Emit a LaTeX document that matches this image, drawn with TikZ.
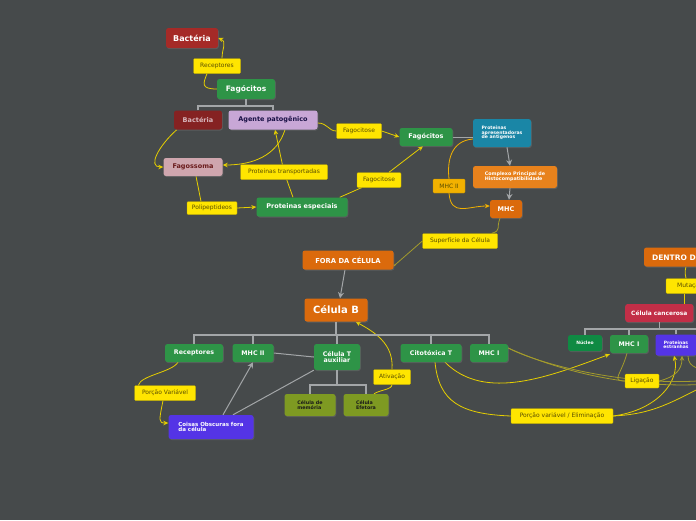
\documentclass[tikz,border=0pt]{standalone}
\usepackage{fontspec}
\setmainfont{DejaVu Sans}
\usetikzlibrary{arrows.meta,shadows}
\definecolor{bg}{HTML}{464A4B}
\definecolor{tagfill}{HTML}{FFE500}
\definecolor{tagtext}{HTML}{5A4E00}
\definecolor{linky}{HTML}{E6CF00}
\definecolor{linko}{HTML}{A39B2C}
\definecolor{linka}{HTML}{F2B100}
\definecolor{treegray}{HTML}{A3A6A8}
\definecolor{mmgreen}{HTML}{2E9447}
\definecolor{mmdkgreen}{HTML}{0F8A43}
\definecolor{mmorange}{HTML}{DB6A0C}
\definecolor{mmorange2}{HTML}{E8821C}
\definecolor{mmred}{HTML}{A52A27}
\definecolor{mmdkred}{HTML}{852222}
\definecolor{mmlav}{HTML}{C8A7D6}
\definecolor{mmpink}{HTML}{CFA6AE}
\definecolor{mmteal}{HTML}{1A86A6}
\definecolor{mmpurple}{HTML}{5434E6}
\definecolor{mmolive}{HTML}{7E9A22}
\definecolor{mmcrimson}{HTML}{C22E47}
\pgfdeclarelayer{back}
\pgfdeclarelayer{links}
\pgfsetlayers{back,links,main}
\newcommand{\fsz}[1]{\fontsize{#1}{#1}\selectfont}
\newcommand{\treebar}[3]{
	\draw[treeline] (#1.south) -- (#1.south |- 0,#2);
	\foreach \c in {#3} {
		\draw[treeline] (\c.north) |- (#1.south |- 0,#2);
	}
}

\begin{document}
\begin{tikzpicture}[x=1pt,y=-1pt,
	topic/.style={rounded corners=2.5pt,text=white,inner sep=1pt,align=center,
		drop shadow={opacity=0.35,shadow xshift=0.8pt,shadow yshift=-1pt}},
	tag/.style={fill=tagfill,draw=linky!80!black,line width=0.3pt,rounded corners=1pt,
		text=tagtext,font=\fsz{6},inner sep=1pt,minimum height=15},
	link/.style={draw=linky,line width=0.8pt},
	olink/.style={draw=linko,line width=0.8pt},
	tip/.style={-{Stealth[length=5pt,width=4.5pt]}},
	treeline/.style={draw=treegray,line width=1.6pt},
	grayline/.style={draw=treegray,line width=1pt},
	grayarrow/.style={grayline,-{Stealth[length=6pt,width=6pt]}}]
	\useasboundingbox (0,0) rectangle (696,520);
	\begin{pgfonlayer}{back}
		\fill[bg] (0,0) rectangle (696,520);
	\end{pgfonlayer}
	\clip (0,0) rectangle (696,520);

	% fora da celula
	\node[topic,fill=mmred,minimum width=52,minimum height=20,font=\bfseries\fsz{8}] (bac1) at (192,38) {Bactéria};
	\node[topic,fill=mmgreen,minimum width=58,minimum height=20,font=\bfseries\fsz{7.5}] (fag1) at (246,89) {Fagócitos};
	\node[topic,fill=mmdkred,text=mmpink!80!white,minimum width=48,minimum height=19,font=\bfseries\fsz{6.5}] (bac2) at (198,120) {Bactéria};
	\node[topic,fill=mmlav,text=black!50!mmpurple!60!black,minimum width=89,minimum height=19,font=\bfseries\fsz{6.5}] (agente) at (273,120) {Agente patogênico};
	\node[topic,fill=mmgreen,minimum width=53,minimum height=18,font=\bfseries\fsz{6.5}] (fag2) at (426,137) {Fagócitos};
	\node[topic,fill=mmteal,minimum width=58,minimum height=28,align=left,font=\bfseries\fsz{4.6}] (apres) at (502,133) {Proteinas\\apresentadoras\\de antigenos};
	\node[topic,fill=mmorange2,minimum width=84,minimum height=22,align=left,font=\bfseries\fsz{4.8}] (compl) at (515,177) {Complexo Principal de\\Histocompatibilidade};
	\node[topic,fill=mmorange,minimum width=32,minimum height=18,font=\bfseries\fsz{6.5}] (mhc) at (506,209) {MHC};
	\node[topic,fill=mmpink,text=mmdkred!80!black,minimum width=59,minimum height=18,font=\bfseries\fsz{6.5}] (fagossoma) at (193,167) {Fagossoma};
	\node[topic,fill=mmgreen,minimum width=91,minimum height=19,font=\bfseries\fsz{6.5}] (pesp) at (302,207) {Proteinas especiais};
	\node[topic,fill=mmorange,minimum width=91,minimum height=19,font=\bfseries\fsz{6.8}] (fora) at (348,260) {FORA DA CÉLULA};

	% celula B
	\node[topic,fill=mmorange,minimum width=63,minimum height=23,font=\bfseries\fsz{10}] (celB) at (336,310) {Célula B};
	\node[topic,fill=mmgreen,minimum width=58,minimum height=18,font=\bfseries\fsz{6.3}] (recB) at (194,353) {Receptores};
	\node[topic,fill=mmgreen,minimum width=41,minimum height=18,font=\bfseries\fsz{6.3}] (mhcII) at (253,353) {MHC II};
	\node[topic,fill=mmgreen,minimum width=46,minimum height=26,font=\bfseries\fsz{6.3}] (tAux) at (337,357) {Célula T\\auxiliar};
	\node[topic,fill=mmgreen,minimum width=61,minimum height=18,font=\bfseries\fsz{6.3}] (cito) at (431,353) {Citotóxica T};
	\node[topic,fill=mmgreen,minimum width=38,minimum height=18,font=\bfseries\fsz{6.3}] (mhcI) at (489,353) {MHC I};
	\node[topic,fill=mmolive,text=black!90,minimum width=51,minimum height=22,align=left,font=\bfseries\fsz{4.8}] (mem) at (310,405) {Célula de\\memória};
	\node[topic,fill=mmolive,text=black!90,minimum width=45,minimum height=22,align=left,font=\bfseries\fsz{4.8}] (efet) at (366,405) {Célula\\Efetora};
	\node[topic,fill=mmpurple,minimum width=85,minimum height=24,align=left,font=\bfseries\fsz{5.5}] (coisas) at (211,427) {Coisas Obscuras fora\\da célula};

	% dentro da celula
	\node[topic,fill=mmorange,minimum width=100,minimum height=19,font=\bfseries\fsz{7.5}] (dentro) at (694,257) {DENTRO DA CÉLULA};
	\node[topic,fill=mmcrimson,anchor=west,inner xsep=6pt,minimum height=18,font=\bfseries\fsz{5.9}] (cancer) at (625,313) {Célula cancerosa};
	\node[topic,fill=mmdkgreen,minimum width=34,minimum height=16,font=\bfseries\fsz{4.5}] (nucleo) at (585,343) {Núcleo};
	\node[topic,fill=mmgreen,minimum width=38,minimum height=18,font=\bfseries\fsz{6.3}] (mhcIr) at (629,344) {MHC I};
	\node[topic,fill=mmpurple,minimum width=41,minimum height=21,font=\bfseries\fsz{4.5}] (pestr) at (676,345) {Proteinas\\estranhas};

	% trees
	\treebar{fag1}{106}{bac2,agente}
	\treebar{celB}{335}{recB,mhcII,tAux,cito,mhcI}
	\treebar{tAux}{385}{mem,efet}
	\treebar{cancer}{329}{nucleo,mhcIr,pestr}
	\draw[treeline] (cancer.south |- 0,329) -- (710,329);

	% labels
	\node[tag,minimum width=47] (rec1) at (217,66) {Receptores};
	\node[tag,minimum width=45] (fgc1) at (359,131) {Fagocitose};
	\node[tag,minimum width=87] (ptrans) at (284,172) {Proteinas transportadas};
	\node[tag,minimum width=50,minimum height=13] (polip) at (212,208) {Polipeptideos};
	\node[tag,minimum width=44] (fgc2) at (379,180) {Fagocitose};
	\node[tag,fill=linka,draw=linka!80!black,minimum width=32,minimum height=14] (mhc2tag) at (449,186) {MHC II};
	\node[tag,minimum width=75] (sup) at (460,241) {Superfície da Célula};
	\node[tag,minimum width=61] (porcao) at (165,393) {Porção Variável};
	\node[tag,minimum width=37] (ativ) at (392,377) {Ativação};
	\node[tag,minimum width=48] (mut) at (690,286) {Mutação};
	\node[tag,minimum width=34,minimum height=14] (lig) at (642,381) {Ligação};
	\node[tag,minimum width=102] (elim) at (562,416) {Porção variável / Eliminação};

	\begin{pgfonlayer}{links}
	% gray connectors
	\draw[grayline] (fag2.east) -- (apres.west |- fag2.east);
	\draw[grayarrow] ([xshift=5]apres.south) -- ([xshift=-5]compl.north);
	\draw[grayarrow] ([xshift=-5]compl.south) -- ([xshift=3]mhc.north);
	\draw[grayarrow] ([xshift=-3]fora.south) -- ([xshift=4]celB.north);
	\draw[grayline] (mhcII.east) -- (tAux.west);
	\draw[grayarrow] ([xshift=12]coisas.north) -- (mhcII.south);
	\draw[grayline] ([xshift=22]coisas.north) -- (tAux.south west);

	% links
	\draw[link] (fag1.west) .. controls +(-16,0) and +(-4,10) .. ([xshift=-10]rec1.south);
	\draw[link,tip] ([xshift=5]rec1.north) .. controls +(0,-10) and +(9,4) .. (bac1.east);
	\draw[link] ([yshift=-3]agente.east) .. controls +(10,0) and +(-8,0) .. (fgc1.west);
	\draw[link,tip] (fgc1.east) -- (fag2.west);
	\draw[link,tip] ([xshift=3]bac2.south west) .. controls +(-18,16) and +(-16,0) .. (fagossoma.west);
	\draw[link,tip] ([xshift=12]agente.south) .. controls +(-8,26) and +(30,0) .. ([yshift=2]fagossoma.east);
	\draw[link] ([xshift=-9]pesp.north) -- (ptrans);
	\draw[link,tip] (ptrans) -- ([xshift=2]agente.south);
	\draw[link] ([xshift=3]fagossoma.south) -- ([xshift=-11]polip.north);
	\draw[link,tip] (polip.east) -- (pesp.west);
	\draw[link] ([xshift=-8]pesp.north east) -- (fgc2);
	\draw[link,tip] (fgc2) -- ([xshift=-3]fag2.south);
	\draw[draw=linka,line width=0.8pt] ([yshift=-6]apres.west) .. controls +(-22,2) and +(-2,-18) .. (mhc2tag.north);
	\draw[draw=linka,line width=0.8pt,tip] (mhc2tag.south) .. controls +(2,24) and +(-22,0) .. ([yshift=3]mhc.west);
	\draw[olink] ([xshift=-6]mhc.south) .. controls +(-4,10) and +(10,-3) .. ([xshift=-6]sup.north east);
	\draw[olink,{Circle[length=2pt]}-] ([yshift=-6]fora.east) -- (sup.west);
	\draw[link] ([xshift=-16]recB.south) .. controls +(-6,10) and +(2,-10) .. ([xshift=4]porcao.north west);
	\draw[link,tip] ([xshift=-2]porcao.south) .. controls +(-4,20) and +(-10,0) .. ([yshift=4]coisas.west);
	\draw[link] ([xshift=8]efet.north) .. controls +(6,-4) and +(0,5) .. (ativ.south);
	\draw[link,tip] (ativ.north) .. controls +(2,-26) and +(18,10) .. ([xshift=-12]celB.south east);
	\draw[link] (dentro.south -| 686,0) .. controls +(-2,8) and +(0,-4) .. ([xshift=-4]mut.north);
	\draw[link] ([xshift=-6]mut.south) -- (cancer.north -| 684,0);
	\draw[link,tip] ([xshift=14]cito.south) .. controls +(40,40) and +(-60,22) .. ([yshift=-1]mhcIr.south west);
	\draw[link] ([xshift=4]cito.south) .. controls +(4,40) and +(-50,-2) .. (elim.west);
	\draw[link,tip] (elim.east) .. controls +(45,-6) and +(6,25) .. ([xshift=-2]pestr.south);
	\draw[link] (elim.east) .. controls +(40,-2) and +(-40,20) .. (710,383);
	\draw[olink] ([xshift=-2]mhcIr.south) .. controls +(-6,22) and +(-14,0) .. (lig.west);
	\draw[olink,tip] (lig.east) .. controls +(16,-4) and +(0,14) .. ([xshift=6]pestr.south);
	\draw[olink] ([xshift=12]pestr.south) .. controls +(0,14) and +(-8,-4) .. (710,372);
	\draw[olink] ([yshift=5]mhcI.east) .. controls +(30,16) and +(-80,8) .. (710,380);
	\draw[olink] ([yshift=5]mhcI.east) .. controls +(40,18) and +(-90,6) .. (710,384);
	\end{pgfonlayer}
\end{tikzpicture}
\end{document}
